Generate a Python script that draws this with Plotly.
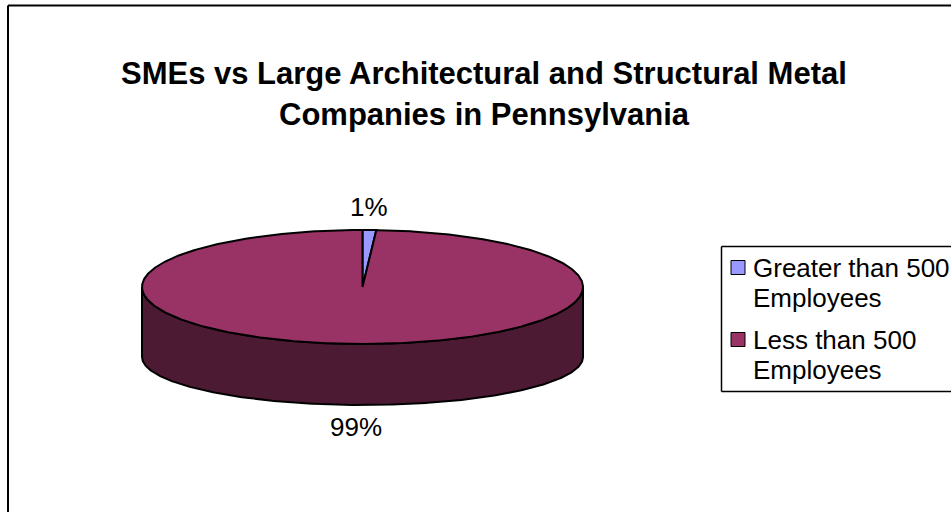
import numpy as np
import plotly.graph_objects as go

# ---- data ----
title_lines = ["SMEs vs Large Architectural and Structural Metal",
               "Companies in Pennsylvania"]
categories = ["Greater than 500 Employees", "Less than 500 Employees"]
legend_lines = [["Greater than 500", "Employees"], ["Less than 500", "Employees"]]
shares = [1, 99]  # percent of companies

# ---- styling ----
top_colors = ["#9999FF", "#993366"]
side_colors = ["#4D4D80", "#4D1A33"]
FONT = "Liberation Sans, Arial, sans-serif"
W, H = 951, 512

# ---- 3D pie geometry (pixel space, y grows downwards) ----
CX = 362.5
RX = 220.5
TOP_CY, TOP_RY = 287.0, 57.0
BOT_CY, BOT_RY = 357.0, 48.0


def top_pt(deg):
    t = np.radians(deg)
    return CX + RX * np.sin(t), TOP_CY - TOP_RY * np.cos(t)


def bot_pt(deg):
    t = np.radians(deg)
    return CX + RX * np.sin(t), BOT_CY - BOT_RY * np.cos(t)


def arc(fn, a, b):
    n = max(2, int(abs(b - a) * 2) + 2)
    ang = np.linspace(a, b, n)
    xs, ys = fn(ang)
    return list(xs), list(ys)


total = float(sum(shares))
bounds = []
start = 0.0
for v in shares:
    end = start + 360.0 * v / total
    bounds.append((start, end))
    start = end

edge = dict(color="black", width=2)
fig = go.Figure()

# side walls (front half of the cylinder, 90..270 degrees clockwise from 12 o'clock)
for (a, b), col in zip(bounds, side_colors):
    lo, hi = max(a, 90.0), min(b, 270.0)
    if hi <= lo:
        continue
    tx, ty = arc(top_pt, lo, hi)
    bx, by = arc(bot_pt, hi, lo)
    fig.add_trace(go.Scatter(x=tx + bx + [tx[0]], y=ty + by + [ty[0]],
                             mode="lines", fill="toself", fillcolor=col,
                             line=edge, hoverinfo="skip", showlegend=False))

# top faces
for (a, b), col, name in zip(bounds, top_colors, categories):
    ax_, ay_ = arc(top_pt, a, b)
    fig.add_trace(go.Scatter(x=[CX] + ax_ + [CX], y=[TOP_CY] + ay_ + [TOP_CY],
                             mode="lines", fill="toself", fillcolor=col,
                             line=edge, name=name, hoverinfo="skip",
                             showlegend=False))

annotations = []

# percentage labels, placed outside each slice at its mid angle
for (a, b), v in zip(bounds, shares):
    mid = (a + b) / 2.0
    if np.cos(np.radians(mid)) >= 0:
        px, py = top_pt(mid)
        py -= 23
    else:
        px, py = bot_pt(mid)
        py += 22
    annotations.append(dict(x=px, y=py, xref="x", yref="y",
                            text=f"{round(100 * v / total)}%", showarrow=False,
                            xanchor="center", yanchor="middle",
                            font=dict(family=FONT, size=26, color="black")))

# title
for i, line in enumerate(title_lines):
    annotations.append(dict(x=484, y=73 + 41 * i, xref="x", yref="y",
                            text=f"<b>{line}</b>", showarrow=False,
                            xanchor="center", yanchor="middle",
                            font=dict(family=FONT, size=31, color="black")))


def hline(x0, x1, y, w):
    return dict(type="line", xref="x", yref="y", x0=x0, x1=x1, y0=y, y1=y,
                line=dict(color="black", width=w))


def vline(x, y0, y1, w):
    return dict(type="line", xref="x", yref="y", x0=x, x1=x, y0=y0, y1=y1,
                line=dict(color="black", width=w))


shapes = [
    # chart frame (continues past the right and bottom edges of the page)
    hline(8, W + 20, 5.5, 2), vline(8, 5.5, H + 20, 2),
    # legend frame (also runs past the right edge)
    dict(type="rect", xref="x", yref="y", x0=721.5, y0=246.5, x1=W + 20, y1=391.5,
         line=dict(width=0), fillcolor="white", layer="below"),
    hline(721.5, W + 20, 246.5, 1.5), hline(721.5, W + 20, 391.5, 1.5),
    vline(721.5, 246.5, 391.5, 1.5),
]

# legend entries
item_y = [267.5, 339.5]
for yc, lines, col in zip(item_y, legend_lines, top_colors):
    shapes.append(dict(type="rect", xref="x", yref="y", x0=731, x1=745,
                       y0=yc - 7, y1=yc + 7, fillcolor=col,
                       line=dict(color="black", width=1)))
    for j, txt in enumerate(lines):
        annotations.append(dict(x=751, y=yc + 30 * j, xref="x", yref="y",
                                text=txt, showarrow=False,
                                xanchor="left", yanchor="middle",
                                font=dict(family=FONT, size=26, color="black")))

fig.update_layout(
    width=W, height=H, autosize=False,
    margin=dict(l=0, r=0, t=0, b=0),
    paper_bgcolor="white", plot_bgcolor="white",
    xaxis=dict(range=[0, W], visible=False, fixedrange=True),
    yaxis=dict(range=[H, 0], visible=False, fixedrange=True),
    shapes=shapes, annotations=annotations, showlegend=False,
)

fig.write_html("out.html", config={"displayModeBar": False})
